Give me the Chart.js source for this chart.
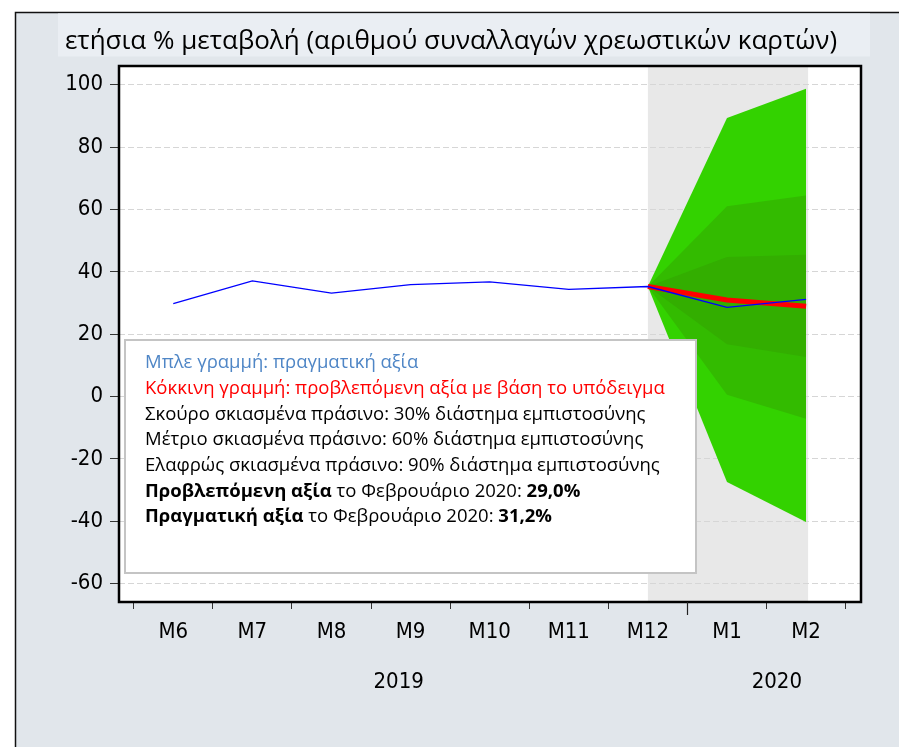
<!DOCTYPE html>
<html lang="el">
<head>
<meta charset="utf-8">
<title>Χρεωστικές κάρτες - ετήσια μεταβολή</title>
<script src="https://cdn.jsdelivr.net/npm/chart.js@4.4.0/dist/chart.umd.min.js"></script>
<style>
    html, body { margin: 0; padding: 0; background: #fff; }
    canvas { display: block; }
</style>
</head>
<body>
<canvas id="debit-chart" width="899" height="747"></canvas>
<script>
(function() {
    'use strict';

    // Months on the axis, June 2019 .. February 2020
    var months = ['M6', 'M7', 'M8', 'M9', 'M10', 'M11', 'M12', 'M1', 'M2'];
    var years = ['2019', '2020'];
    var yTicks = [-60, -40, -20, 0, 20, 40, 60, 80, 100];

    // Actual yearly % change of debit card transactions
    var actual = [29.8, 37.1, 33.2, 35.9, 36.8, 34.4, 35.3, 28.6, 31.2];

    // Forecast and fan bands, starting at M12
    var forecast = [35.3, 31.0, 29.0];
    var band30Upper = [35.3, 44.8, 45.5];
    var band30Lower = [35.3, 16.8, 12.7];
    var band60Upper = [35.3, 61.0, 64.5];
    var band60Lower = [35.3, 0.6, -7.1];
    var band90Upper = [35.3, 89.3, 98.7];
    var band90Lower = [35.3, -27.4, -40.2];

    var title = 'ετήσια % μεταβολή (αριθμού συναλλαγών χρεωστικών καρτών)';
    var forecastStart = months.indexOf('M12');
    var yearBreak = forecastStart + 0.5;
    var yearLabelPos = [2.85, 7.63];

    var W = 899, H = 747;
    var axisFamily = '"Liberation Sans Narrow", "DejaVu Sans Condensed", "Liberation Sans", sans-serif';
    var textFamily = '"Open Sans", "Noto Sans", sans-serif';

    function fmt(v) {
        return v.toFixed(1).replace('.', ',') + '%';
    }

    var legendLines = [
        [{ text: 'Μπλε γραμμή: πραγματική αξία', color: '#4f86c6' }],
        [{ text: 'Κόκκινη γραμμή: προβλεπόμενη αξία με βάση το υπόδειγμα', color: '#ff0000' }],
        [{ text: 'Σκούρο σκιασμένα πράσινο: 30% διάστημα εμπιστοσύνης' }],
        [{ text: 'Μέτριο σκιασμένα πράσινο: 60% διάστημα εμπιστοσύνης' }],
        [{ text: 'Ελαφρώς σκιασμένα πράσινο: 90% διάστημα εμπιστοσύνης' }],
        [{ text: 'Προβλεπόμενη αξία', bold: true }, { text: ' το Φεβρουάριο 2020: ' },
            { text: fmt(forecast[forecast.length - 1]), bold: true }],
        [{ text: 'Πραγματική αξία', bold: true }, { text: ' το Φεβρουάριο 2020: ' },
            { text: fmt(actual[actual.length - 1]), bold: true }]
    ];

    function points(values, start) {
        return values.map(function(v, i) {
            return { x: start + i, y: v };
        });
    }

    function band(values, color, fill) {
        return {
            data: points(values, forecastStart),
            borderColor: 'transparent',
            borderWidth: 0,
            backgroundColor: color,
            pointRadius: 0,
            fill: fill ? '+1' : false
        };
    }

    var backdrop = {
        id: 'backdrop',
        beforeDraw: function(chart) {
            var ctx = chart.ctx;
            var a = chart.chartArea;
            var xs = chart.scales.x;

            ctx.save();
            ctx.fillStyle = '#ffffff';
            ctx.fillRect(0, 0, W, H);
            ctx.fillStyle = '#e1e6eb';
            ctx.fillRect(15, 12, W - 15, H - 12);

            ctx.strokeStyle = '#111';
            ctx.lineWidth = 1.5;
            ctx.beginPath();
            ctx.moveTo(15.5, H);
            ctx.lineTo(15.5, 12.5);
            ctx.lineTo(W, 12.5);
            ctx.stroke();

            // title band
            ctx.fillStyle = '#eaeef3';
            ctx.fillRect(58, 13.5, 812, 43);
            ctx.fillStyle = '#000';
            ctx.font = '26px ' + textFamily;
            ctx.textAlign = 'center';
            ctx.textBaseline = 'middle';
            ctx.fillText(title, 451, 42);

            // plot background and forecast period shade
            ctx.fillStyle = '#ffffff';
            ctx.fillRect(a.left, a.top, a.right - a.left, a.bottom - a.top);
            var x0 = xs.getPixelForValue(forecastStart);
            var x1 = xs.getPixelForValue(months.length - 1) + 2;
            ctx.fillStyle = '#e8e8e8';
            ctx.fillRect(x0, a.top, x1 - x0, a.bottom - a.top);
            ctx.restore();
        },
        afterDatasetsDraw: function(chart) {
            var ctx = chart.ctx;
            ctx.save();
            ctx.fillStyle = '#ffffff';
            ctx.fillRect(124, 339, 573, 235);
            ctx.strokeStyle = '#c4c4c4';
            ctx.lineWidth = 2;
            ctx.strokeRect(125, 340, 571, 233);

            ctx.textAlign = 'left';
            ctx.textBaseline = 'middle';
            legendLines.forEach(function(line, i) {
                var x = 145;
                var y = 363 + i * 25.7;
                line.forEach(function(seg) {
                    ctx.font = (seg.bold ? 'bold ' : '') + '18.5px ' + textFamily;
                    ctx.fillStyle = seg.color || '#000';
                    ctx.fillText(seg.text, x, y);
                    x += ctx.measureText(seg.text).width;
                });
            });
            ctx.restore();
        },
        afterDraw: function(chart) {
            var ctx = chart.ctx;
            var a = chart.chartArea;
            var xs = chart.scales.x;
            ctx.save();
            ctx.strokeStyle = '#000';
            ctx.lineWidth = 2.5;
            ctx.strokeRect(a.left, a.top, a.right - a.left, a.bottom - a.top);

            // longer tick between the two years
            var xb = Math.round(xs.getPixelForValue(yearBreak)) + 0.5;
            ctx.strokeStyle = '#222';
            ctx.lineWidth = 1.2;
            ctx.beginPath();
            ctx.moveTo(xb, a.bottom);
            ctx.lineTo(xb, a.bottom + 13);
            ctx.stroke();
            ctx.restore();
        }
    };

    var xMin = -0.686, xMax = 8.694;

    new Chart(document.getElementById('debit-chart'), {
        type: 'line',
        data: {
            datasets: [
                {
                    data: points(actual, 0),
                    borderColor: '#0000ff',
                    borderWidth: 1.3,
                    pointRadius: 0,
                    fill: false
                },
                {
                    data: points(forecast, forecastStart),
                    borderColor: '#ff0000',
                    borderWidth: 5,
                    pointRadius: 0,
                    fill: false
                },
                band(band30Upper, '#33ae00', true),
                band(band30Lower, '#33ae00', false),
                band(band60Upper, '#33bb00', true),
                band(band60Lower, '#33bb00', false),
                band(band90Upper, '#33d200', true),
                band(band90Lower, '#33d200', false)
            ]
        },
        options: {
            responsive: false,
            animation: false,
            events: [],
            layout: {
                padding: { top: 66, right: 38, bottom: 43, left: 0 }
            },
            plugins: {
                legend: { display: false },
                title: { display: false },
                tooltip: { enabled: false }
            },
            scales: {
                y: {
                    type: 'linear',
                    position: 'left',
                    min: -65.85,
                    max: 106.0,
                    afterBuildTicks: function(scale) {
                        scale.ticks = yTicks.map(function(v) { return { value: v }; });
                    },
                    afterFit: function(scale) {
                        scale.width = 119;
                    },
                    ticks: {
                        callback: function(v) { return String(v); },
                        color: '#000',
                        padding: 7,
                        font: { family: axisFamily, size: 22 }
                    },
                    grid: {
                        color: '#d6d6d6',
                        lineWidth: 1,
                        tickLength: 9,
                        tickColor: '#333',
                        tickWidth: 1
                    },
                    border: { display: false, dash: [6, 3] }
                },
                x: {
                    type: 'linear',
                    position: 'bottom',
                    weight: 0,
                    min: xMin,
                    max: xMax,
                    afterBuildTicks: function(scale) {
                        var t = [];
                        for (var i = 0; i <= months.length; i++) {
                            t.push({ value: i - 0.5 });
                        }
                        scale.ticks = t;
                    },
                    afterFit: function(scale) {
                        scale.height = 12;
                    },
                    ticks: { display: false },
                    grid: {
                        drawOnChartArea: false,
                        tickLength: 7,
                        tickColor: '#333',
                        tickWidth: 1
                    },
                    border: { display: false }
                },
                xMonth: {
                    type: 'linear',
                    position: 'bottom',
                    weight: 1,
                    min: xMin,
                    max: xMax,
                    afterBuildTicks: function(scale) {
                        scale.ticks = months.map(function(m, i) { return { value: i }; });
                    },
                    afterFit: function(scale) {
                        scale.height = 40;
                    },
                    ticks: {
                        callback: function(v) { return months[v]; },
                        color: '#000',
                        padding: 5,
                        maxRotation: 0,
                        autoSkip: false,
                        font: { family: axisFamily, size: 22 }
                    },
                    grid: { display: false, drawTicks: false },
                    border: { display: false }
                },
                xYear: {
                    type: 'linear',
                    position: 'bottom',
                    weight: 2,
                    min: xMin,
                    max: xMax,
                    afterBuildTicks: function(scale) {
                        scale.ticks = yearLabelPos.map(function(p) { return { value: p }; });
                    },
                    afterFit: function(scale) {
                        scale.height = 50;
                    },
                    ticks: {
                        callback: function(v, i) { return years[i]; },
                        color: '#000',
                        padding: 15,
                        maxRotation: 0,
                        autoSkip: false,
                        font: { family: axisFamily, size: 22 }
                    },
                    grid: { display: false, drawTicks: false },
                    border: { display: false }
                }
            }
        },
        plugins: [backdrop]
    });
})();
</script>
</body>
</html>
